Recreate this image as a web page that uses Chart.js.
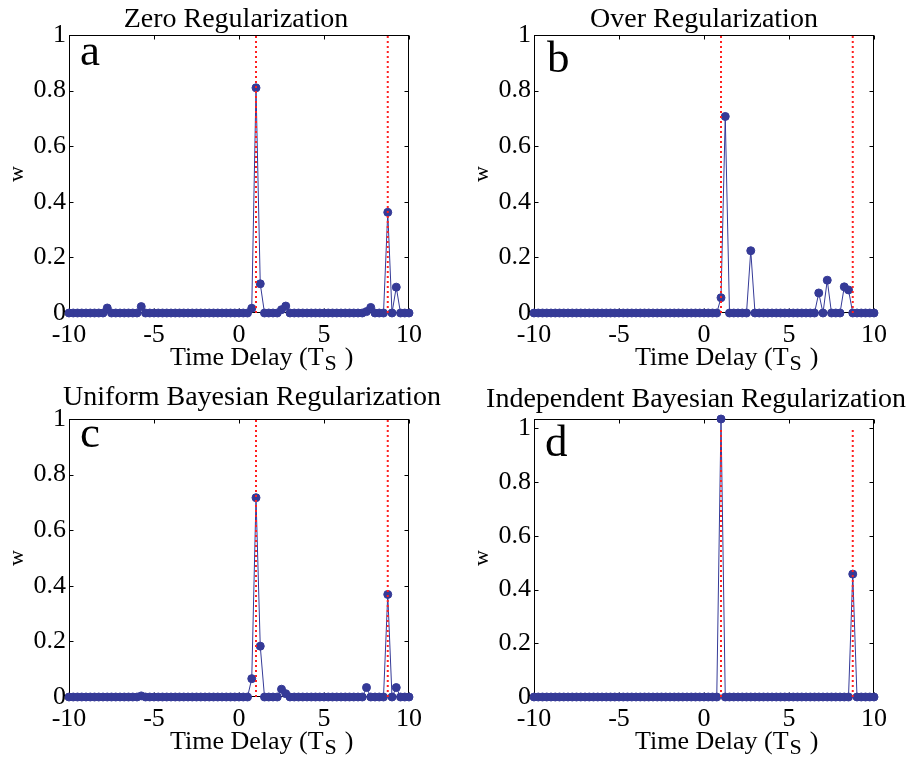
<!DOCTYPE html>
<html>
<head>
<meta charset="utf-8">
<title>Delay weights under four regularizations</title>
<script src="https://cdn.jsdelivr.net/npm/chart.js@4/dist/chart.umd.min.js"></script>
<style>
  html, body { margin: 0; padding: 0; background: #fff; }
  #wrap { position: relative; width: 911px; height: 769px; }
  #wrap canvas { position: absolute; }
</style>
</head>
<body>
<div id="wrap">
  <canvas id="panel-a" width="446" height="384" style="left:0;top:0"></canvas>
  <canvas id="panel-b" width="446" height="384" style="left:465px;top:0"></canvas>
  <canvas id="panel-c" width="446" height="384" style="left:0;top:384px"></canvas>
  <canvas id="panel-d" width="446" height="384" style="left:465px;top:384px"></canvas>
</div>
<script>
// ── Data ──────────────────────────────────────────────────────────────────
// Time delay grid (units of T_s)
const DELAYS = [
  -10, -9.75, -9.5, -9.25, -9, -8.75, -8.5, -8.25, -8, -7.75,
  -7.5, -7.25, -7, -6.75, -6.5, -6.25, -6, -5.75, -5.5, -5.25,
  -5, -4.75, -4.5, -4.25, -4, -3.75, -3.5, -3.25, -3, -2.75,
  -2.5, -2.25, -2, -1.75, -1.5, -1.25, -1, -0.75, -0.5, -0.25,
  0, 0.25, 0.5, 0.75, 1, 1.25, 1.5, 1.75, 2, 2.25,
  2.5, 2.75, 3, 3.25, 3.5, 3.75, 4, 4.25, 4.5, 4.75,
  5, 5.25, 5.5, 5.75, 6, 6.25, 6.5, 6.75, 7, 7.25,
  7.5, 7.75, 8, 8.25, 8.5, 8.75, 9, 9.25, 9.5, 9.75,
  10
];

const ZERO_REG = [
  0, 0, 0, 0, 0, 0, 0, 0, 0, 0.018,
  0, 0, 0, 0, 0, 0, 0, 0.023, 0, 0,
  0, 0, 0, 0, 0, 0, 0, 0, 0, 0,
  0, 0, 0, 0, 0, 0, 0, 0, 0, 0,
  0, 0, 0, 0.017, 0.81, 0.105, 0, 0, 0, 0,
  0.012, 0.025, 0, 0, 0, 0, 0, 0, 0, 0,
  0, 0, 0, 0, 0, 0, 0, 0, 0, 0,
  0.005, 0.02, 0, 0, 0, 0.362, 0, 0.093, 0, 0,
  0
];

const OVER_REG = [
  0, 0, 0, 0, 0, 0, 0, 0, 0, 0,
  0, 0, 0, 0, 0, 0, 0, 0, 0, 0,
  0, 0, 0, 0, 0, 0, 0, 0, 0, 0,
  0, 0, 0, 0, 0, 0, 0, 0, 0, 0,
  0, 0, 0, 0, 0.055, 0.707, 0, 0, 0, 0,
  0, 0.224, 0, 0, 0, 0, 0, 0, 0, 0,
  0, 0, 0, 0, 0, 0, 0, 0.072, 0, 0.118,
  0, 0, 0, 0.094, 0.083, 0, 0, 0, 0, 0,
  0
];

const UNIFORM_BAYES = [
  0, 0, 0, 0, 0, 0, 0, 0, 0, 0,
  0, 0, 0, 0, 0, 0, 0, 0.004, 0, 0,
  0, 0, 0, 0, 0, 0, 0, 0, 0, 0,
  0, 0, 0, 0, 0, 0, 0, 0, 0, 0,
  0, 0, 0, 0.066, 0.717, 0.183, 0, 0, 0, 0,
  0.028, 0.012, 0, 0, 0, 0, 0, 0, 0, 0,
  0, 0, 0, 0, 0, 0, 0, 0, 0, 0,
  0.034, 0, 0, 0, 0, 0.369, 0, 0.034, 0, 0,
  0
];

const INDEP_BAYES = [
  0, 0, 0, 0, 0, 0, 0, 0, 0, 0,
  0, 0, 0, 0, 0, 0, 0, 0, 0, 0,
  0, 0, 0, 0, 0, 0, 0, 0, 0, 0,
  0, 0, 0, 0, 0, 0, 0, 0, 0, 0,
  0, 0, 0, 0, 1.035, 0, 0, 0, 0, 0,
  0, 0, 0, 0, 0, 0, 0, 0, 0, 0,
  0, 0, 0, 0, 0, 0, 0, 0, 0, 0,
  0, 0, 0, 0, 0, 0.4575, 0, 0, 0, 0,
  0
];

// True delays (red dotted markers) and their vertical extent
const TRUE_DELAYS = [1, 8.75];
const TRUE_SPAN   = [0, 1];

const X_TICKS = [-10, -5, 0, 5, 10];
const Y_TICKS = [0, 0.2, 0.4, 0.6, 0.8, 1];

const TITLES  = ['Zero Regularization', 'Over Regularization',
                 'Uniform Bayesian Regularization', 'Independent Bayesian Regularization'];
const LETTERS = ['a', 'b', 'c', 'd'];
const SERIES  = [ZERO_REG, OVER_REG, UNIFORM_BAYES, INDEP_BAYES];
const Y_MAX   = [1, 1, 1, 1.035];

// ── Look ──────────────────────────────────────────────────────────────────
const SERIF = "'Liberation Serif', 'Times New Roman', serif";
const BLUE  = '#353a97';
const RED   = '#ff2020';

// per-panel text placement, relative to the plot area
// title: dx from plot centre, dy baseline above plot top
// letter: dx/dy from plot top-left
const PANEL_TEXT = [
  { tdx: -3, tdy: -8,  ldx: 11, ldy: 30 },
  { tdx:  0, tdy: -8,  ldx: 13, ldy: 37 },
  { tdx: 13, tdy: -14, ldx: 11, ldy: 28 },
  { tdx: -8, tdy: -12, ldx: 11, ldy: 37 },
];

// ── Plugin: MATLAB-style box, inward ticks, title, letter, x label ──────
const matlabFrame = {
  id: 'matlabFrame',
  beforeDatasetsDraw(chart) {
    const { ctx, chartArea: a, scales: { x, y } } = chart;
    const L = Math.round(a.left) + 0.5, R = Math.round(a.right) - 0.5;
    const T = Math.round(a.top) + 0.5,  B = Math.round(a.bottom) - 0.5;
    ctx.save();
    ctx.strokeStyle = '#000';
    ctx.lineWidth = 1;
    ctx.strokeRect(L, T, R - L, B - T);
    ctx.beginPath();
    x.ticks.forEach(t => {
      const px = Math.round(x.getPixelForValue(t.value)) + 0.5;
      ctx.moveTo(px, B); ctx.lineTo(px, B - 4);
      ctx.moveTo(px, T); ctx.lineTo(px, T + 4);
    });
    y.ticks.forEach(t => {
      const py = Math.round(y.getPixelForValue(t.value)) + 0.5;
      ctx.moveTo(L, py); ctx.lineTo(L + 4, py);
      ctx.moveTo(R, py); ctx.lineTo(R - 4, py);
    });
    ctx.stroke();
    ctx.restore();
  },
  afterDraw(chart, args, opts) {
    const { ctx, chartArea: a } = chart;
    const p = opts.place;
    ctx.save();
    ctx.fillStyle = '#000';
    ctx.textBaseline = 'alphabetic';

    // title
    ctx.textAlign = 'center';
    ctx.font = `28px ${SERIF}`;
    ctx.fillText(opts.title, (a.left + a.right) / 2 + p.tdx, a.top + p.tdy);

    // panel letter
    ctx.textAlign = 'left';
    ctx.font = `45px ${SERIF}`;
    ctx.fillText(opts.letter, a.left + p.ldx, a.top + p.ldy);

    // x axis label with subscript
    const base = a.bottom + 52;
    let xx = a.left + 101;
    ctx.font = `26px ${SERIF}`;
    const main = 'Time Delay (T';
    ctx.fillText(main, xx, base);
    xx += ctx.measureText(main).width + 1;
    ctx.font = `22px ${SERIF}`;
    ctx.fillText('S', xx, base + 5);
    xx += ctx.measureText('S').width + 8;
    ctx.font = `26px ${SERIF}`;
    ctx.fillText(')', xx, base);
    ctx.restore();
  }
};

// ── Build one panel ───────────────────────────────────────────────────────
function makePanel(canvasId, idx) {
  const values = SERIES[idx];
  const points = DELAYS.map((d, i) => ({ x: d, y: values[i] }));

  const truthSets = TRUE_DELAYS.map(d => ({
    data: TRUE_SPAN.map(v => ({ x: d, y: v })),
    borderColor: RED,
    borderWidth: 2,
    borderDash: [2, 3],
    pointRadius: 0,
    order: 0,
  }));

  return new Chart(document.getElementById(canvasId), {
    type: 'line',
    data: {
      datasets: [
        {
          data: points,
          borderColor: BLUE,
          borderWidth: 1,
          pointRadius: 4,
          pointBackgroundColor: BLUE,
          pointBorderColor: BLUE,
          pointBorderWidth: 1,
          tension: 0,
          clip: false,
          order: 1,
        },
        ...truthSets,
      ]
    },
    options: {
      responsive: false,
      animation: false,
      events: [],
      layout: { padding: { left: 0, right: 37, top: 35, bottom: 0 } },
      plugins: {
        legend: { display: false },
        tooltip: { enabled: false },
        title: { display: false },
        matlabFrame: { title: TITLES[idx], letter: LETTERS[idx], place: PANEL_TEXT[idx] },
      },
      scales: {
        x: {
          type: 'linear',
          min: -10, max: 10,
          afterBuildTicks: s => { s.ticks = X_TICKS.map(v => ({ value: v })); },
          afterFit: s => { s.height = 71; },
          grid: { display: false, drawTicks: false },
          border: { display: false },
          ticks: { color: '#000', padding: 7, maxRotation: 0,
                   font: { family: SERIF, size: 26 },
                   callback: v => String(v) },
        },
        y: {
          type: 'linear',
          min: 0, max: Y_MAX[idx],
          afterBuildTicks: s => { s.ticks = Y_TICKS.map(v => ({ value: v })); },
          afterFit: s => { s.width = 69; },
          grid: { display: false, drawTicks: false },
          border: { display: false },
          ticks: { color: '#000', padding: 3,
                   font: { family: SERIF, size: 26 },
                   callback: v => String(v) },
          title: {
            display: true, text: 'w', color: '#000',
            font: { family: SERIF, size: 22 },
            padding: { top: 4, bottom: 0 },
          },
        },
      },
    },
    plugins: [matlabFrame],
  });
}

['panel-a', 'panel-b', 'panel-c', 'panel-d'].forEach((id, i) => makePanel(id, i));
</script>
</body>
</html>
